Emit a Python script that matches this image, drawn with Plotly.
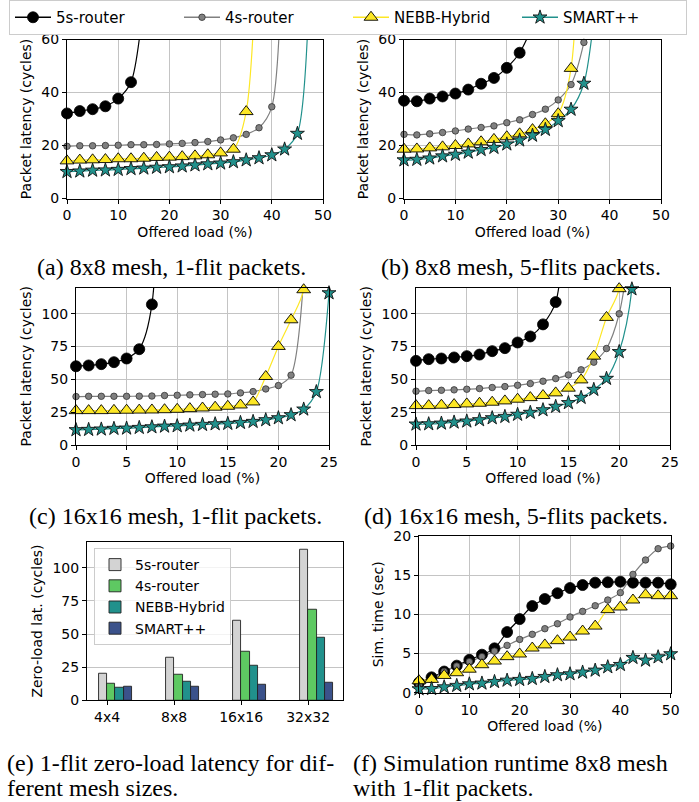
import plotly.graph_objects as go

W, H = 699, 802

# ---------------- data ----------------
SERIES = ["5s-router", "4s-router", "NEBB-Hybrid", "SMART++"]
LOAD_50 = [0, 2.5, 5, 7.5, 10, 12.5, 15, 17.5, 20, 22.5, 25, 27.5, 30, 32.5, 35,
           37.5, 40, 42.5, 45, 47.5, 50]
LOAD_25 = [0, 1.25, 2.5, 3.75, 5, 6.25, 7.5, 8.75, 10, 11.25, 12.5, 13.75, 15,
           16.25, 17.5, 18.75, 20, 21.25, 22.5, 23.75, 25]

# (a) 8x8 mesh, 1-flit packets
a_5s = [32.1, 33.0, 33.7, 34.8, 37.7, 43.9]
a_4s = [19.7, 19.9, 19.9, 20.0, 20.1, 20.3, 20.3, 20.4, 20.6, 20.8, 21.1, 21.5,
        22.1, 22.9, 24.2, 26.7, 34.6]
a_nebb = [14.2, 14.5, 14.6, 14.7, 15.0, 15.0, 15.2, 15.5, 15.6, 15.8, 16.1, 16.5,
          17.2, 18.6, 32.8]
a_smart = [10.1, 10.3, 10.6, 10.7, 10.9, 11.2, 11.4, 11.7, 11.9, 12.2, 12.6, 13.0,
           13.3, 13.8, 14.5, 15.3, 16.4, 18.6, 24.5]
a_tail = [75, 160, 118, 90]          # saturated next value (off chart)

# (b) 8x8 mesh, 5-flits packets
b_5s = [36.9, 36.7, 37.7, 38.5, 39.6, 41.1, 43.3, 45.5, 49.3, 55.0]
b_4s = [24.2, 24.0, 24.4, 24.9, 25.5, 26.2, 26.8, 27.4, 28.6, 29.7, 31.7, 33.7,
        37.2, 43.0, 58.9]
b_nebb = [18.6, 18.7, 19.1, 19.5, 20.0, 20.6, 21.4, 22.3, 23.3, 24.4, 26.0, 28.2,
          32.0, 49.1]
b_smart = [14.5, 14.7, 15.2, 16.0, 16.6, 17.4, 18.4, 19.2, 20.5, 22.0, 23.8, 26.0,
           29.3, 33.6, 43.4]
b_tail = [65, 90, 185, 78]

# (c) 16x16 mesh, 1-flit packets
c_5s = [60.0, 60.6, 61.6, 63.1, 65.9, 73.0, 107.1]
c_4s = [36.9, 37.1, 37.1, 37.1, 37.1, 37.2, 37.3, 37.7, 37.9, 38.2, 38.4, 38.7,
        38.9, 39.7, 40.7, 42.7, 45.3, 53.2]
c_nebb = [26.2, 26.2, 26.2, 26.4, 26.5, 26.6, 26.7, 26.9, 27.2, 27.7, 28.2, 28.8,
          29.5, 30.5, 32.8, 52.2, 75.1, 95.4, 118.3]
c_smart = [11.5, 11.7, 12.0, 12.5, 12.7, 13.2, 13.7, 14.2, 14.5, 15.0, 15.5, 16.0,
           16.3, 17.0, 17.8, 19.1, 20.6, 22.9, 27.2, 40.5, 115.8]
c_tail = [800, 128, 400, None]

# (d) 16x16 mesh, 5-flits packets
d_5s = [64.1, 65.4, 65.9, 66.7, 67.7, 68.9, 71.5, 73.8, 78.1, 82.7, 91.9, 108.9]
d_4s = [41.0, 41.5, 41.7, 42.0, 42.5, 43.0, 43.8, 44.5, 45.5, 46.8, 48.6, 50.6,
        53.4, 57.3, 63.1, 73.5, 100.0]
d_nebb = [30.0, 30.0, 30.3, 30.8, 31.3, 31.8, 32.6, 33.6, 34.9, 36.1, 37.7, 39.7,
          43.3, 49.6, 67.7, 97.2, 119.1]
d_smart = [15.8, 16.0, 16.5, 17.3, 18.1, 19.1, 20.6, 21.6, 23.2, 24.7, 26.7, 29.3,
           32.1, 36.1, 42.2, 50.6, 71.0, 118.8]
d_tail = [200, 162, 400, 400]

# (e) zero-load latency vs mesh size
MESH = ["4x4", "8x8", "16x16", "32x32"]
e_5s = [19.8, 32.2, 60.3, 113.8]
e_4s = [12.8, 19.6, 36.7, 68.6]
e_nebb = [9.8, 14.3, 26.4, 47.5]
e_smart = [10.5, 10.3, 11.8, 13.3]

# (f) simulation runtime, 8x8 mesh, 1-flit
f_5s = [1.3, 1.96, 2.7, 3.45, 4.2, 4.85, 5.66, 7.74, 9.4, 11.06, 11.96, 12.7,
        13.36, 13.74, 14.04, 14.09, 14.17, 14.04, 14.04, 14.04, 13.83]
f_4s = [1.0, 1.7, 2.7, 3.4, 3.96, 4.6, 5.3, 6.04, 6.8, 7.45, 8.17, 8.8, 9.66,
        10.38, 11.1, 11.83, 12.77, 15.1, 16.94, 18.38, 18.72]
f_nebb = [1.53, 1.7, 2.2, 2.55, 3.0, 3.57, 4.04, 4.6, 4.94, 5.7, 6.1, 6.64, 7.1,
          7.87, 8.5, 10.6, 10.94, 11.83, 12.5, 12.38, 12.38]
f_smart = [0.47, 0.5, 0.72, 0.9, 1.1, 1.2, 1.4, 1.57, 1.66, 1.79, 2.04, 2.26,
           2.38, 2.6, 2.85, 3.28, 3.57, 4.47, 4.13, 4.55, 4.94]

CAPTIONS = ["(a) 8x8 mesh, 1-flit packets.", "(b) 8x8 mesh, 5-flits packets.",
            "(c) 16x16 mesh, 1-flit packets.", "(d) 16x16 mesh, 5-flits packets.",
            "(e) 1-flit zero-load latency for dif-", "ferent mesh sizes.",
            "(f) Simulation runtime 8x8 mesh", "with 1-flit packets."]

# ---------------- styles ----------------
LINE_COL = ["#000000", "#808080", "#fde725", "#21918c"]
MK = [
    dict(symbol="circle", size=11, color="#000000", line=dict(color="#000000", width=0.8)),
    dict(symbol="circle", size=6.5, color="#808080", line=dict(color="#333333", width=0.8)),
    dict(symbol="triangle-up", size=12, color="#fde725", line=dict(color="#000000", width=0.9)),
    dict(symbol="star", size=10.5, color="#21918c", line=dict(color="#111111", width=0.9)),
]
BAR_COL = ["#d3d3d3", "#5ec962", "#21918c", "#3b528b"]
FONT = "DejaVu Sans"
SERIF = "Liberation Serif"

fig = go.Figure()


def xd(p0, p1):
    return [p0 / W, p1 / W]


def yd(top, bottom):
    return [1 - bottom / H, 1 - top / H]


def add_panel(idx, xs, ys_list, tails, tail_dx):
    ax = "" if idx == 1 else str(idx)
    for k, ys in enumerate(ys_list):
        xv = xs[:len(ys)]
        lx, ly = list(xv), list(ys)
        if tails[k] is not None:
            lx.append(xs[len(ys)] if len(ys) < len(xs) else xs[-1] + tail_dx)
            ly.append(tails[k])
        fig.add_trace(go.Scatter(
            x=lx, y=ly, mode="lines", xaxis="x" + ax, yaxis="y" + ax,
            line=dict(color=LINE_COL[k], width=1.2, shape="spline", smoothing=0.8),
            showlegend=False, hoverinfo="skip"))
    for k, ys in enumerate(ys_list):
        fig.add_trace(go.Scatter(
            x=xs[:len(ys)], y=ys, mode="markers", xaxis="x" + ax, yaxis="y" + ax,
            marker=MK[k], cliponaxis=False, showlegend=False))


add_panel(1, LOAD_50, [a_5s, a_4s, a_nebb, a_smart], a_tail, 2.5)
add_panel(2, LOAD_50, [b_5s, b_4s, b_nebb, b_smart], b_tail, 2.5)
add_panel(3, LOAD_25, [c_5s, c_4s, c_nebb, c_smart], c_tail, 1.25)
add_panel(4, LOAD_25, [d_5s, d_4s, d_nebb, d_smart], d_tail, 1.25)
add_panel(6, LOAD_50, [f_5s, f_4s, f_nebb, f_smart], [None] * 4, 2.5)

# legend-only traces for the top legend
for k, name in enumerate(SERIES):
    fig.add_trace(go.Scatter(
        x=[None], y=[None], mode="lines+markers", name=name,
        line=dict(color=LINE_COL[k], width=1.5), marker=MK[k],
        legend="legend", showlegend=True))

# bars (e)
BW = 0.125
offsets = [-0.0625, 0.0625, 0.1875, 0.3125]
for k, vals in enumerate([e_5s, e_4s, e_nebb, e_smart]):
    fig.add_trace(go.Bar(
        x=[i + offsets[k] for i in range(len(MESH))], y=vals, width=BW,
        name=SERIES[k], marker=dict(color=BAR_COL[k], line=dict(color="#222222", width=0.9)),
        xaxis="x5", yaxis="y5", legend="legend2", showlegend=True))

axis_common = dict(showline=True, mirror=True, linecolor="black", linewidth=1,
                   ticks="outside", ticklen=4, tickwidth=1, tickcolor="black",
                   showgrid=True, gridcolor="#c4c4c4", gridwidth=1, zeroline=False,
                   tickfont=dict(family=FONT, size=14, color="black"),
                   automargin=False)


def xa(dom, rng, dtick, anchor, title=True, grid=True):
    d = dict(axis_common, domain=dom, range=rng, dtick=dtick, tick0=0, anchor=anchor,
             showgrid=grid)
    if title:
        d["title"] = dict(text="Offered load (%)", font=dict(family=FONT, size=14, color="black"),
                          standoff=4)
    return d


def ya(dom, rng, dtick, anchor, title):
    return dict(axis_common, domain=dom, range=rng, dtick=dtick, tick0=0, anchor=anchor,
                title=dict(text=title, font=dict(family=FONT, size=14, color="black"),
                           standoff=6))


PL = "Packet latency (cycles)"
layout = dict(
    width=W, height=H, margin=dict(l=0, r=0, t=0, b=0),
    paper_bgcolor="white", plot_bgcolor="white",
    xaxis=xa(xd(67, 323), [0, 50], 10, "y"),
    yaxis=ya(yd(39.5, 198.5), [0, 60], 20, "x", PL),
    xaxis2=xa(xd(404, 661), [0, 50], 10, "y2"),
    yaxis2=ya(yd(39.5, 198.5), [0, 60], 20, "x2", PL),
    xaxis3=xa(xd(76, 329), [0, 25], 5, "y3"),
    yaxis3=ya(yd(287.5, 445), [0, 120], 25, "x3", PL),
    xaxis4=xa(xd(416, 670), [0, 25], 5, "y4"),
    yaxis4=ya(yd(287.5, 445), [0, 120], 25, "x4", PL),
    xaxis5=dict(axis_common, domain=xd(87, 343), range=[-0.30, 3.52], anchor="y5",
                tickvals=list(range(len(MESH))), ticktext=MESH, showgrid=False),
    yaxis5=ya(yd(541.7, 700.3), [0, 119.6], 25, "x5", "Zero-load lat. (cycles)"),
    xaxis6=xa(xd(419, 670.7), [0, 50], 10, "y6"),
    yaxis6=ya(yd(536, 692.7), [0, 20], 5, "x6", "Sim. time (sec)"),
    legend=dict(orientation="h", x=9 / W, y=1.0, xanchor="left", yanchor="top",
                bgcolor="white", bordercolor="#cccccc", borderwidth=1,
                font=dict(family=FONT, size=15, color="black"), itemwidth=36,
                entrywidth=118, entrywidthmode="pixels",
                traceorder="normal", tracegroupgap=0),
    legend2=dict(x=94 / W, y=1 - 548 / H, xanchor="left", yanchor="top",
                 bgcolor="rgba(255,255,255,0.8)", bordercolor="#cccccc", borderwidth=1,
                 font=dict(family=FONT, size=14, color="black"), traceorder="normal"),
    bargap=0,
)
fig.update_layout(**layout)

# captions
cap_pos = [(171.5, 267, "center"), (521, 267, "center"), (175.5, 516, "center"),
           (516, 516, "center"), (4.5, 763, "left"), (4.5, 788, "left"),
           (351, 763, "left"), (351, 788, "left")]
for text, (cx, cy, al) in zip(CAPTIONS, cap_pos):
    fig.add_annotation(text=text, x=cx / W, y=1 - cy / H, xref="paper", yref="paper",
                       xanchor=al, yanchor="middle", showarrow=False,
                       font=dict(family=SERIF, size=24, color="black"))

fig.write_html("out.html")
